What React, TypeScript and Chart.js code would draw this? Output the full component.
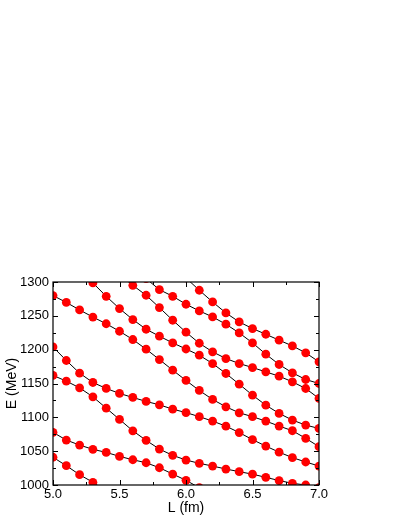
import React, { useEffect, useRef } from "react";
import { Chart, registerables } from "chart.js";

Chart.register(...registerables);

// Box size L (fm)
const L_VALUES = [5.0, 5.1, 5.2, 5.3, 5.4, 5.5, 5.6, 5.7, 5.8, 5.9, 6.0, 6.1, 6.2, 6.3, 6.4, 6.5, 6.6, 6.7, 6.8, 6.9, 7.0];

// Energy levels E (MeV); null = far outside the plotted window
const LEVEL_1 = [1041, 1028.5, 1015.2, 1004, 991, null, null, null, null, null, null, null, null, null, null, null, null, null, null, null, null];
const LEVEL_2 = [1077.8, 1066.4, 1059, 1052.7, 1048.2, 1042.3, 1037.3, 1032.9, 1025.5, 1016.2, 1006.9, 996, null, null, null, null, null, null, null, null, null];
const LEVEL_3 = [1162, 1153.5, 1143.6, 1130.3, 1113.6, 1096.9, 1080.1, 1066, 1053.1, 1043.8, 1036.9, 1032, 1028, 1023.6, 1019.7, 1016, 1011.3, 1006.6, 1002.5, 1000, 996];
const LEVEL_4 = [1204, 1184, 1165.3, 1151.5, 1142.7, 1135.3, 1129.4, 1123.5, 1118.5, 1112.1, 1107, 1101, 1094.4, 1087, 1077.5, 1067, 1057.5, 1048.5, 1040.5, 1034, 1028];
const LEVEL_5 = [1280, 1269.8, 1258.7, 1248.2, 1238.3, 1227.2, 1215, 1200.7, 1185.4, 1169.7, 1154.5, 1139.7, 1126.4, 1115.6, 1106.7, 1101, 1094.4, 1087.1, 1080.2, 1069, 1056.6];
const LEVEL_6 = [null, null, 1318, 1298.6, 1278.9, 1260.7, 1244.5, 1230.2, 1219.9, 1210, 1201, 1191.8, 1179.5, 1164.8, 1149, 1132.8, 1118, 1105.8, 1095.9, 1088.5, 1083.6];
const LEVEL_7 = [null, null, null, null, null, 1311, 1295.1, 1280.4, 1262.2, 1243.5, 1225.8, 1209.5, 1196.8, 1186.9, 1179.5, 1173.6, 1167.2, 1160.8, 1152.5, 1142.6, 1127.9];
const LEVEL_8 = [null, null, null, null, null, null, null, 1305, 1288.7, 1278.9, 1267.1, 1257.3, 1248.4, 1237.6, 1224.8, 1210, 1193.3, 1178.1, 1165.8, 1155.9, 1150];
const LEVEL_9 = [null, null, null, null, null, null, null, null, null, null, 1306, 1287.8, 1270.5, 1254.3, 1241, 1231.2, 1222.8, 1214, 1205.6, 1195.3, 1182];

const LEVELS = [LEVEL_1, LEVEL_2, LEVEL_3, LEVEL_4, LEVEL_5, LEVEL_6, LEVEL_7, LEVEL_8, LEVEL_9];

// Axis ticks
const X_MAJOR_TICKS = [5.0, 5.5, 6.0, 6.5, 7.0];
const X_MINOR_TICKS = [5.25, 5.75, 6.25, 6.75];
const Y_MAJOR_TICKS = [1000, 1050, 1100, 1150, 1200, 1250, 1300];
const Y_MINOR_TICKS = [1025, 1075, 1125, 1175, 1225, 1275];

const X_TITLE = "L (fm)";
const Y_TITLE = "E (MeV)";

const FONT_FAMILY = "'Liberation Sans', Arial, sans-serif";

const framePlugin = {
  id: "frameTicks",
  afterDatasetsDraw(chart: any) {
    const { ctx, chartArea, scales } = chart;
    const { left, right, top, bottom } = chartArea;
    const xs = scales.x;
    const ys = scales.y;
    ctx.save();
    ctx.strokeStyle = "#000";
    ctx.lineWidth = 1;
    ctx.beginPath();
    const drawX = (v: number, len: number) => {
      const px = Math.round(xs.getPixelForValue(v)) + 0.5;
      ctx.moveTo(px, bottom);
      ctx.lineTo(px, bottom - len);
      ctx.moveTo(px, top);
      ctx.lineTo(px, top + len);
    };
    const drawY = (v: number, len: number) => {
      const py = Math.round(ys.getPixelForValue(v)) + 0.5;
      ctx.moveTo(left, py);
      ctx.lineTo(left + len, py);
      ctx.moveTo(right, py);
      ctx.lineTo(right - len, py);
    };
    X_MAJOR_TICKS.forEach((v) => drawX(v, 5));
    X_MINOR_TICKS.forEach((v) => drawX(v, 3));
    Y_MAJOR_TICKS.forEach((v) => drawY(v, 5));
    Y_MINOR_TICKS.forEach((v) => drawY(v, 3));
    ctx.stroke();
    ctx.lineWidth = 1.2;
    ctx.strokeRect(left, top, right - left, bottom - top);
    ctx.restore();
  },
};

export default function App() {
  const canvasRef = useRef<HTMLCanvasElement | null>(null);

  useEffect(() => {
    const canvas = canvasRef.current;
    if (!canvas) return;
    const datasets = LEVELS.map((level, i) => ({
      label: `level ${i + 1}`,
      data: L_VALUES.map((x, j) => ({ x, y: level[j] })),
      borderColor: "#000",
      borderWidth: 1,
      backgroundColor: "#ff0000",
      pointBackgroundColor: "#ff0000",
      pointBorderColor: "#ff0000",
      pointBorderWidth: 0,
      pointRadius: 4.4,
      tension: 0,
      fill: false,
      spanGaps: false,
      clip: 0,
    }));

    const chart = new Chart(canvas, {
      type: "line",
      data: { datasets: datasets as any },
      options: {
        responsive: false,
        animation: false,
        events: [],
        layout: { padding: { left: 0, right: 88, top: 282, bottom: 0 } },
        plugins: {
          legend: { display: false },
          tooltip: { enabled: false },
        },
        scales: {
          x: {
            type: "linear",
            min: 5,
            max: 7,
            grid: { display: false, drawTicks: false },
            border: { display: false },
            afterFit: (scale: any) => {
              scale.height = 42;
            },
            afterBuildTicks: (scale: any) => {
              scale.ticks = X_MAJOR_TICKS.map((v) => ({ value: v }));
            },
            ticks: {
              color: "#000",
              padding: 2,
              maxRotation: 0,
              autoSkip: false,
              font: { family: FONT_FAMILY, size: 13 },
              callback: (v: any) => Number(v).toFixed(1),
            },
            title: {
              display: true,
              text: X_TITLE,
              color: "#000",
              font: { family: FONT_FAMILY, size: 14 },
              padding: { top: 0, bottom: 10 },
            },
          },
          y: {
            type: "linear",
            min: 1000,
            max: 1300,
            grid: { display: false, drawTicks: false },
            border: { display: false },
            afterFit: (scale: any) => {
              scale.width = 53;
            },
            afterBuildTicks: (scale: any) => {
              scale.ticks = Y_MAJOR_TICKS.map((v) => ({ value: v }));
            },
            ticks: {
              color: "#000",
              padding: 4,
              autoSkip: false,
              font: { family: FONT_FAMILY, size: 13 },
              callback: (v: any) => String(v),
            },
            title: {
              display: true,
              text: Y_TITLE,
              color: "#000",
              font: { family: FONT_FAMILY, size: 14 },
              padding: { top: 4, bottom: 0 },
            },
          },
        },
      },
      plugins: [framePlugin],
    });

    return () => chart.destroy();
  }, []);

  return (
    <div style={{ position: "fixed", left: 0, top: 0, width: 407, height: 527, background: "#fff" }}>
      <canvas ref={canvasRef} width={407} height={527} style={{ display: "block", width: 407, height: 527 }} />
    </div>
  );
}
